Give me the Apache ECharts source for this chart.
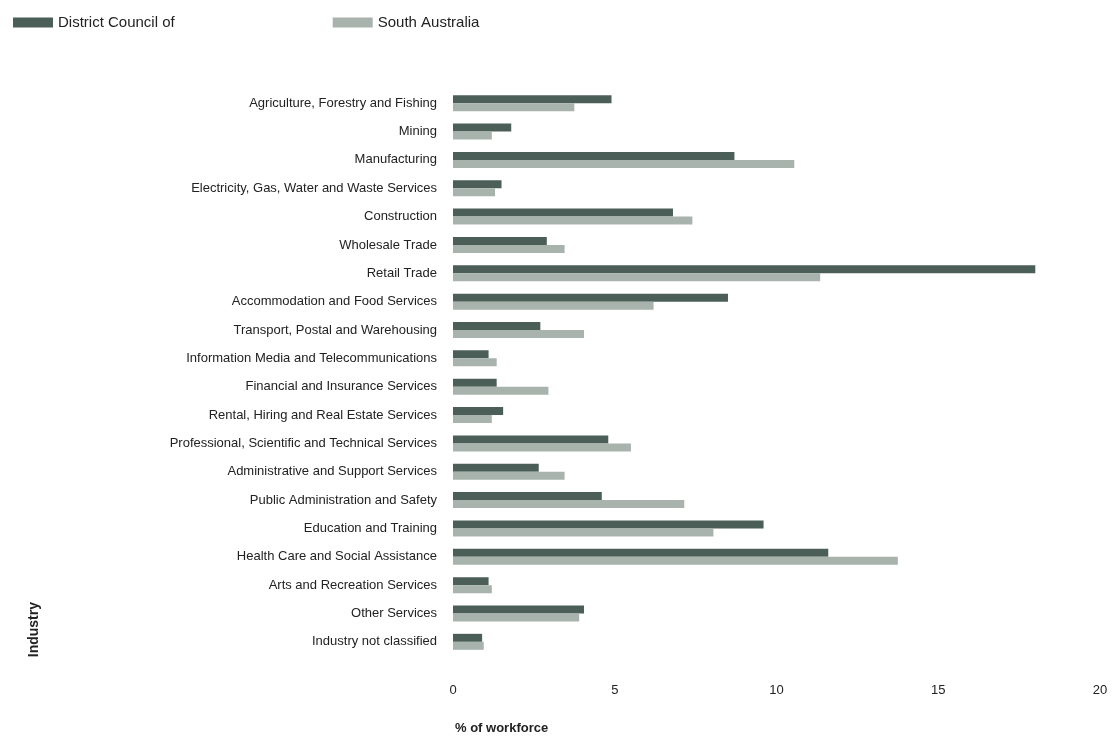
<!DOCTYPE html>
<html>
<head>
<meta charset="utf-8">
<script src="https://cdn.jsdelivr.net/npm/echarts@6/dist/echarts.min.js"></script>
<style>
html, body { margin: 0; padding: 0; background: #fff; }
#chart { width: 1118px; height: 740px; }
</style>
</head>
<body>
<div id="chart"></div>
<script>
// industries, top to bottom
var industries = [
	'Agriculture, Forestry and Fishing',
	'Mining',
	'Manufacturing',
	'Electricity, Gas, Water and Waste Services',
	'Construction',
	'Wholesale Trade',
	'Retail Trade',
	'Accommodation and Food Services',
	'Transport, Postal and Warehousing',
	'Information Media and Telecommunications',
	'Financial and Insurance Services',
	'Rental, Hiring and Real Estate Services',
	'Professional, Scientific and Technical Services',
	'Administrative and Support Services',
	'Public Administration and Safety',
	'Education and Training',
	'Health Care and Social Assistance',
	'Arts and Recreation Services',
	'Other Services',
	'Industry not classified'
];
var councilValues = [4.9, 1.8, 8.7, 1.5, 6.8, 2.9, 18.0, 8.5, 2.7, 1.1, 1.35, 1.55, 4.8, 2.65, 4.6, 9.6, 11.6, 1.1, 4.05, 0.9];
var saValues = [3.75, 1.2, 10.55, 1.3, 7.4, 3.45, 11.35, 6.2, 4.05, 1.35, 2.95, 1.2, 5.5, 3.45, 7.15, 8.05, 13.75, 1.2, 3.9, 0.95];
var xTicks = [0, 5, 10, 15, 20];

var chart = echarts.init(document.getElementById('chart'));
var option = {
	animation: false,
	textStyle: { fontFamily: 'Arial, "Liberation Sans", sans-serif' },
	legend: {
		left: 8,
		top: 10,
		itemWidth: 40,
		itemHeight: 10,
		itemGap: 158,
		icon: 'rect',
		textStyle: { fontSize: 15, color: '#222' },
		data: ['District Council of', 'South Australia']
	},
	grid: { left: 453, right: 18, top: 89, bottom: 84, containLabel: false },
	xAxis: {
		type: 'value',
		min: xTicks[0],
		max: xTicks[xTicks.length - 1],
		interval: 5,
		axisLine: { show: false },
		axisTick: { show: false },
		splitLine: { show: false },
		axisLabel: { margin: 28, fontSize: 13, color: '#222' }
	},
	yAxis: {
		type: 'category',
		inverse: true,
		data: industries,
		axisLine: { show: false },
		axisTick: { show: false },
		axisLabel: { margin: 16, fontSize: 13, color: '#222' }
	},
	graphic: [
		{ type: 'text', left: 455, top: 722, style: { text: '% of workforce', fontSize: 13, fontWeight: 'bold', fill: '#222' } },
		{ type: 'text', left: 27, top: 602, rotation: Math.PI / 2, style: { text: 'Industry', fontSize: 14, fontWeight: 'bold', fill: '#222' } }
	],
	series: [
		{
			name: 'District Council of',
			type: 'bar',
			data: councilValues,
			barWidth: 8,
			barGap: '0%',
			itemStyle: { color: '#4b5f58' }
		},
		{
			name: 'South Australia',
			type: 'bar',
			data: saValues,
			barWidth: 8,
			itemStyle: { color: '#a9b3ad' }
		}
	]
};
chart.setOption(option);
</script>
</body>
</html>
